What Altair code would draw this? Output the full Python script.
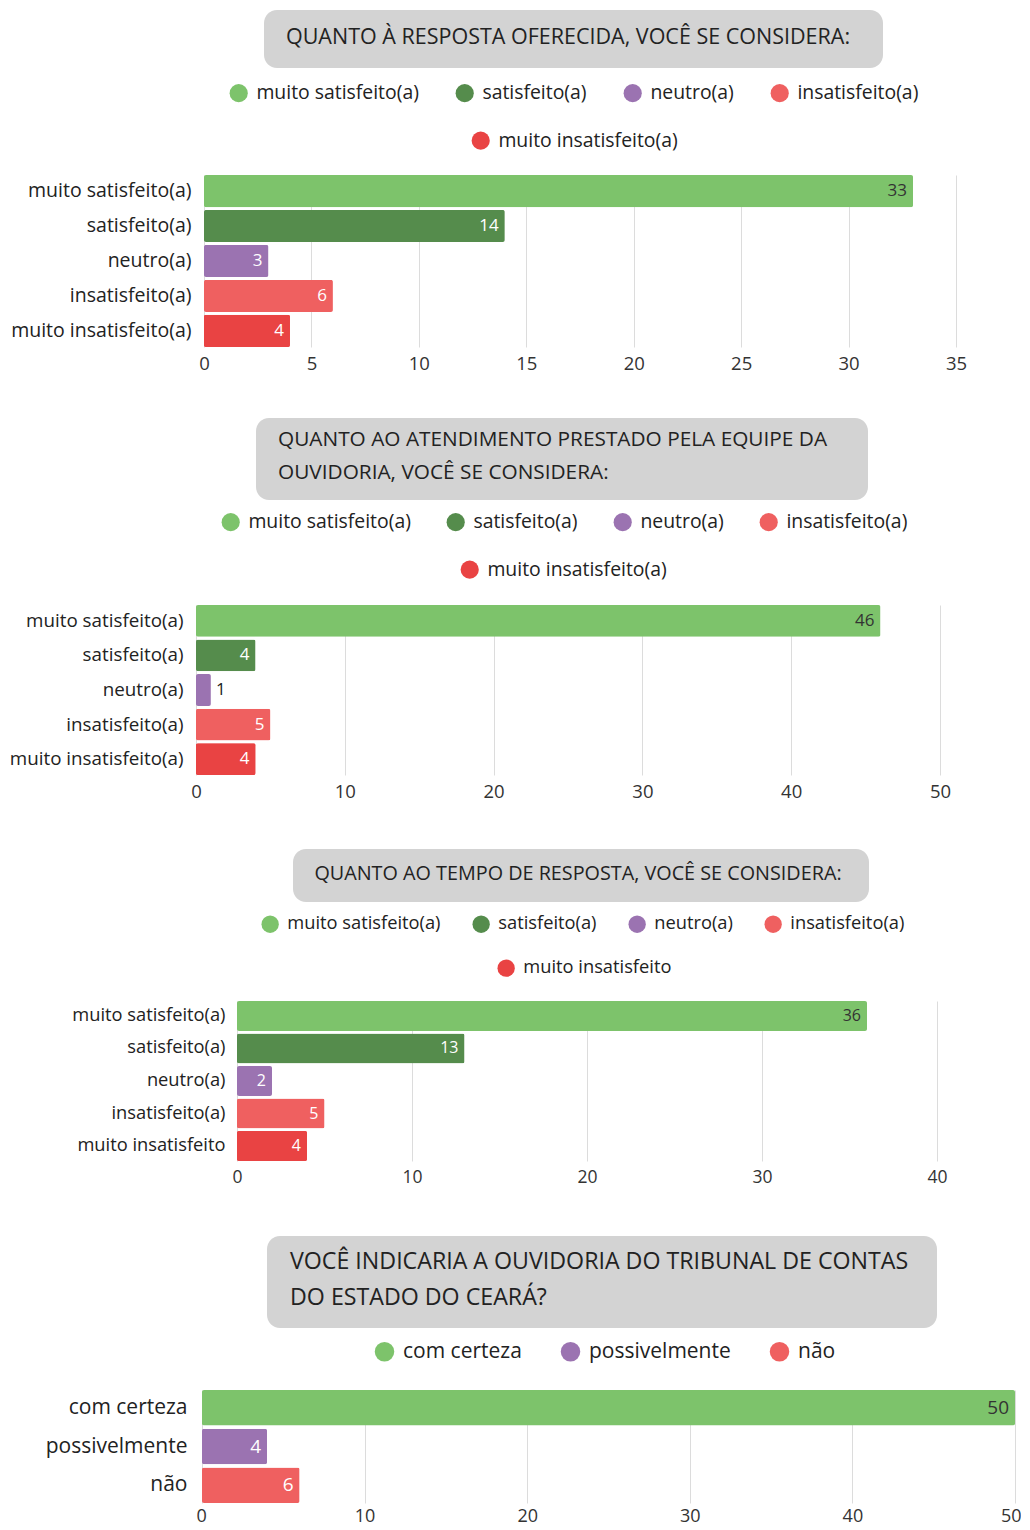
import altair as alt
import pandas as pd

FONT = "Open Sans"

# ---------------- data ----------------
cats_a = ["muito satisfeito(a)", "satisfeito(a)", "neutro(a)", "insatisfeito(a)", "muito insatisfeito(a)"]
cats_b = ["muito satisfeito(a)", "satisfeito(a)", "neutro(a)", "insatisfeito(a)", "muito insatisfeito"]
cats_c = ["com certeza", "possivelmente", "não"]

vals1 = [33, 14, 3, 6, 4]
vals2 = [46, 4, 1, 5, 4]
vals3 = [36, 13, 2, 5, 4]
vals4 = [50, 4, 6]

colors5 = ["#7dc36b", "#558c4c", "#9b73b1", "#ef6060", "#e94343"]
colors3 = ["#7dc36b", "#9b73b1", "#ef6060"]

title1 = ["QUANTO À RESPOSTA OFERECIDA, VOCÊ SE CONSIDERA:"]
title2 = ["QUANTO AO ATENDIMENTO PRESTADO PELA EQUIPE DA", "OUVIDORIA, VOCÊ SE CONSIDERA:"]
title3 = ["QUANTO AO TEMPO DE RESPOSTA, VOCÊ SE CONSIDERA:"]
title4 = ["VOCÊ INDICARIA A OUVIDORIA DO TRIBUNAL DE CONTAS", "DO ESTADO DO CEARÁ?"]

LEFT = 188  # common distance from page-left content edge to plot origin


def panel(cats, vals, colors, xmax, step, off, W, H, box, tlines, tpos, talign, tsize,
          leg1, leg2, fs, yfs, tickfs, valfs, lpad, ext, sym, colpad, flush=False, tpad=7):
    df = pd.DataFrame({"cat": cats, "val": vals})
    base = alt.Chart(df)
    axis_kw = dict(values=list(range(0, xmax + 1, step)), title=None, grid=True,
                   domain=False, ticks=False, labelFontSize=tickfs, labelFont=FONT,
                   labelColor="#333", labelPadding=tpad, gridColor="#dcdcdc")
    if flush:
        axis_kw.update(labelFlush=3, labelFlushOffset=6)
    else:
        axis_kw.update(labelFlush=False)
    xenc = alt.X("val:Q", scale=alt.Scale(domain=[0, xmax], nice=False, range=[off, off + W]),
                 axis=alt.Axis(**axis_kw))
    yenc = alt.Y("cat:N", sort=cats, scale=alt.Scale(paddingInner=0.08, paddingOuter=0.0),
                 axis=alt.Axis(title=None, domain=False, ticks=False, labelFontSize=yfs,
                               labelFont=FONT, labelColor="#222", labelPadding=lpad - off,
                               labelLimit=400))
    n1 = leg1[0]
    bars = base.mark_bar(cornerRadius=2).encode(
        x=xenc, y=yenc,
        color=alt.Color("cat:N", scale=alt.Scale(domain=cats, range=colors),
                        legend=alt.Legend(title=None, orient="none", legendX=leg1[1], legendY=leg1[2],
                                          direction="horizontal", values=cats[:n1],
                                          symbolType="circle", symbolSize=sym, symbolStrokeWidth=0,
                                          labelFontSize=fs, labelFont=FONT, labelColor="#222",
                                          labelLimit=400, labelOffset=8, columnPadding=colpad,
                                          padding=0)),
    )
    layers = []
    one = alt.Data(values=[{}])
    # title box
    layers.append(alt.Chart(one).mark_rect(cornerRadius=13, color="#d3d3d3").encode(
        x=alt.value(box[0]), x2=alt.value(box[1]), y=alt.value(box[2]), y2=alt.value(box[3])))
    for i, line in enumerate(tlines):
        layers.append(alt.Chart(one).mark_text(align=talign, baseline="middle", font=FONT,
                                               fontSize=tsize, color="#222").encode(
            x=alt.value(tpos[0]), y=alt.value(tpos[1][i]), text=alt.value(line)))
    # invisible extent holder (fixes the panel's bounds)
    layers.append(alt.Chart(one).mark_rect(opacity=0).encode(
        x=alt.value(-LEFT), x2=alt.value(0), y=alt.value(ext[0]), y2=alt.value(ext[1])))
    layers.append(bars)
    if leg2 is not None:
        last = cats[-1]
        bars2 = base.transform_filter(alt.datum.cat == last).mark_bar(cornerRadius=2).encode(
            x="val:Q", y=alt.Y("cat:N", sort=cats),
            fill=alt.Fill("cat:N", scale=alt.Scale(domain=[last], range=[colors[-1]]),
                          legend=alt.Legend(title=None, orient="none", legendX=leg2[0], legendY=leg2[1],
                                            direction="horizontal", symbolType="circle",
                                            symbolSize=sym, symbolStrokeWidth=0, labelLimit=400,
                                            labelFontSize=fs, labelFont=FONT, labelColor="#222",
                                            labelOffset=8, padding=0)))
        layers.append(bars2)
    lab_in = base.transform_filter(alt.datum.val >= 2).mark_text(
        align="right", baseline="middle", dx=-6, font=FONT, fontSize=valfs).encode(
        x="val:Q", y=alt.Y("cat:N", sort=cats), text="val:Q",
        color=alt.condition(alt.datum.cat == cats[0], alt.value("#333"), alt.value("#ffffff")))
    lab_out = base.transform_filter(alt.datum.val < 2).mark_text(
        align="left", baseline="middle", dx=5, font=FONT, fontSize=valfs, color="#222").encode(
        x="val:Q", y=alt.Y("cat:N", sort=cats), text="val:Q")
    layers += [lab_in, lab_out]
    return alt.layer(*layers).properties(width=off + W, height=H)


p1 = panel(cats_a, vals1, colors5, 35, 5, 8, 752, 172,
           box=(68, 687, -165, -107), tlines=title1, tpos=(372, [-137]), talign="center", tsize=21.5,
           leg1=(4, 33, -92), leg2=(275, -44), fs=19.4, yfs=19.5, tickfs=18.5, valfs=17, lpad=13,
           ext=(-167, 215), sym=330, colpad=36)

p2 = panel(cats_a, vals2, colors5, 50, 10, 0, 744, 170,
           box=(60, 672, -187, -105), tlines=title2, tpos=(82, [-165, -132]), talign="left", tsize=20.8,
           leg1=(4, 25, -93), leg2=(264, -45), fs=19.4, yfs=18.8, tickfs=18.5, valfs=17, lpad=13,
           ext=(-215, 215), sym=330, colpad=35)

p3 = panel(cats_b, vals3, colors5, 40, 10, 41, 700, 160,
           box=(97, 673, -152, -99), tlines=title3, tpos=(382, [-127]), talign="center", tsize=19.8,
           leg1=(4, 65, -86), leg2=(301, -42), fs=18.3, yfs=18.3, tickfs=17.5, valfs=16, lpad=12,
           ext=(-181, 208), sym=300, colpad=31)

p4 = panel(cats_c, vals4, colors3, 50, 10, 6, 813, 113,
           box=(71, 741, -154, -62), tlines=title4, tpos=(94, [-128, -92]), talign="left", tsize=23.2,
           leg1=(3, 178, -49), leg2=None, fs=21, yfs=21, tickfs=18, valfs=19, lpad=15,
           ext=(-181, 120), sym=380, colpad=38, flush=True, tpad=4)

chart = alt.vconcat(p1, p2, p3, p4, spacing=0).resolve_scale(
    color="independent", fill="independent").resolve_legend(
    color="independent", fill="independent").properties(padding=0).configure(
    font=FONT).configure_view(strokeWidth=0, stroke=None)

chart.save("out.html", embed_options={"renderer": "svg", "actions": False})
